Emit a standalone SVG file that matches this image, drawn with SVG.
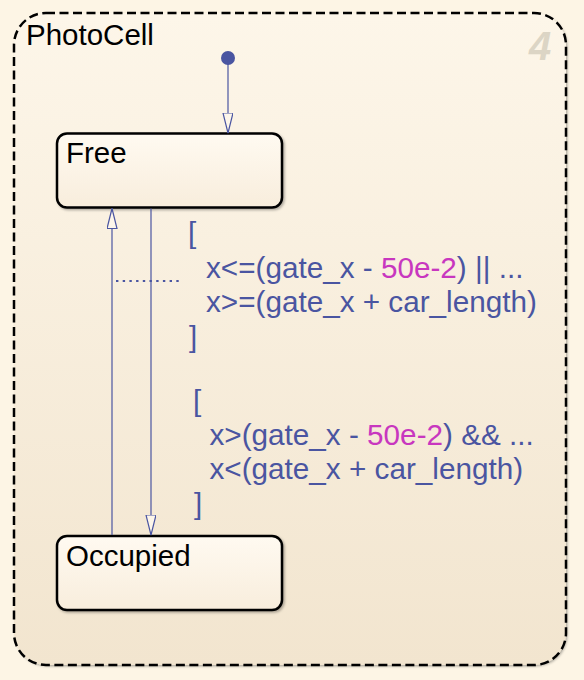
<svg xmlns="http://www.w3.org/2000/svg" width="584" height="680" viewBox="0 0 584 680">
  <style>
    .state { stroke: #000; stroke-width: 2.5; fill: url(#stateFill); filter: url(#shadow); }
    .sname { font-family: "Liberation Sans", Arial, sans-serif; font-size: 29.5px; fill: #000; }
    .conn { stroke: #4a55a1; stroke-width: 1.2; fill: none; }
    .lbl { font-family: "Liberation Sans", Arial, sans-serif; font-size: 29.7px; fill: #4a55a1; }
    .num { fill: #c837bf; }
  </style>
  <defs>
    <linearGradient id="bgFill" x1="0" y1="0" x2="0" y2="1">
      <stop offset="0" stop-color="#fdf6e9"/>
      <stop offset="1" stop-color="#f2e5cf"/>
    </linearGradient>
    <linearGradient id="stateFill" x1="0" y1="0" x2="0" y2="1">
      <stop offset="0" stop-color="#fffaf1"/>
      <stop offset="1" stop-color="#f8eddc"/>
    </linearGradient>
    <filter id="shadow" x="-10%" y="-10%" width="130%" height="130%">
      <feDropShadow dx="1.5" dy="1.5" stdDeviation="1.2" flood-color="#000" flood-opacity="0.3"/>
    </filter>
    <marker id="openArrow" markerUnits="userSpaceOnUse" markerWidth="24" markerHeight="14" refX="20" refY="5" orient="auto">
      <path d="M0,0 L20,5 L0,10 Z" fill="#fdf6ea" stroke="#4a55a1" stroke-width="1.2"/>
    </marker>
  </defs>

  <rect x="0" y="0" width="584" height="680" fill="#fdf5e5"/>

  <g id="PhotoCell">
    <rect x="14" y="13" width="552" height="652" rx="32" ry="32" fill="url(#bgFill)" filter="url(#shadow)"/>
    <rect x="14" y="13" width="552" height="652" rx="32" ry="32" fill="none" stroke="#000" stroke-width="2.5" stroke-dasharray="9 4.5"/>
    <text class="sname" x="26" y="45">PhotoCell</text>
    <text x="529" y="60" font-family="Liberation Sans, Arial, sans-serif" font-size="40" font-weight="bold" font-style="italic" fill="#dcd5c5">4</text>
  </g>

  <g id="Free">
    <rect class="state" x="57" y="133.5" width="225" height="74" rx="10" ry="10"/>
    <text class="sname" x="66" y="163">Free</text>
  </g>

  <g id="Occupied">
    <rect class="state" x="57" y="536" width="225" height="74" rx="10" ry="10"/>
    <text class="sname" x="66" y="566">Occupied</text>
  </g>

  <g id="connectors">
    <circle cx="228" cy="58" r="7" fill="#4a55a1"/>
    <line class="conn" x1="228" y1="58" x2="228" y2="133" marker-end="url(#openArrow)"/>
    <line class="conn" x1="112" y1="535" x2="112" y2="208.5" marker-end="url(#openArrow)"/>
    <line class="conn" x1="151" y1="208.5" x2="151" y2="535" marker-end="url(#openArrow)"/>
    <line x1="116" y1="281" x2="183" y2="281" stroke="#4a55a1" stroke-width="2.2" stroke-dasharray="2.4 4.3"/>
  </g>

  <g id="label-free-to-occupied">
    <text class="lbl" x="188" y="243">[</text>
    <text class="lbl" x="206" y="278">x&lt;=(gate_x - <tspan class="num">50e-2</tspan>) || ...</text>
    <text class="lbl" x="206" y="312">x&gt;=(gate_x + car_length)</text>
    <text class="lbl" x="189" y="347">]</text>
  </g>

  <g id="label-occupied-to-free">
    <text class="lbl" x="193" y="411">[</text>
    <text class="lbl" x="209.5" y="445">x&gt;(gate_x - <tspan class="num">50e-2</tspan>) &amp;&amp; ...</text>
    <text class="lbl" x="209.5" y="479">x&lt;(gate_x + car_length)</text>
    <text class="lbl" x="194" y="514">]</text>
  </g>
</svg>
